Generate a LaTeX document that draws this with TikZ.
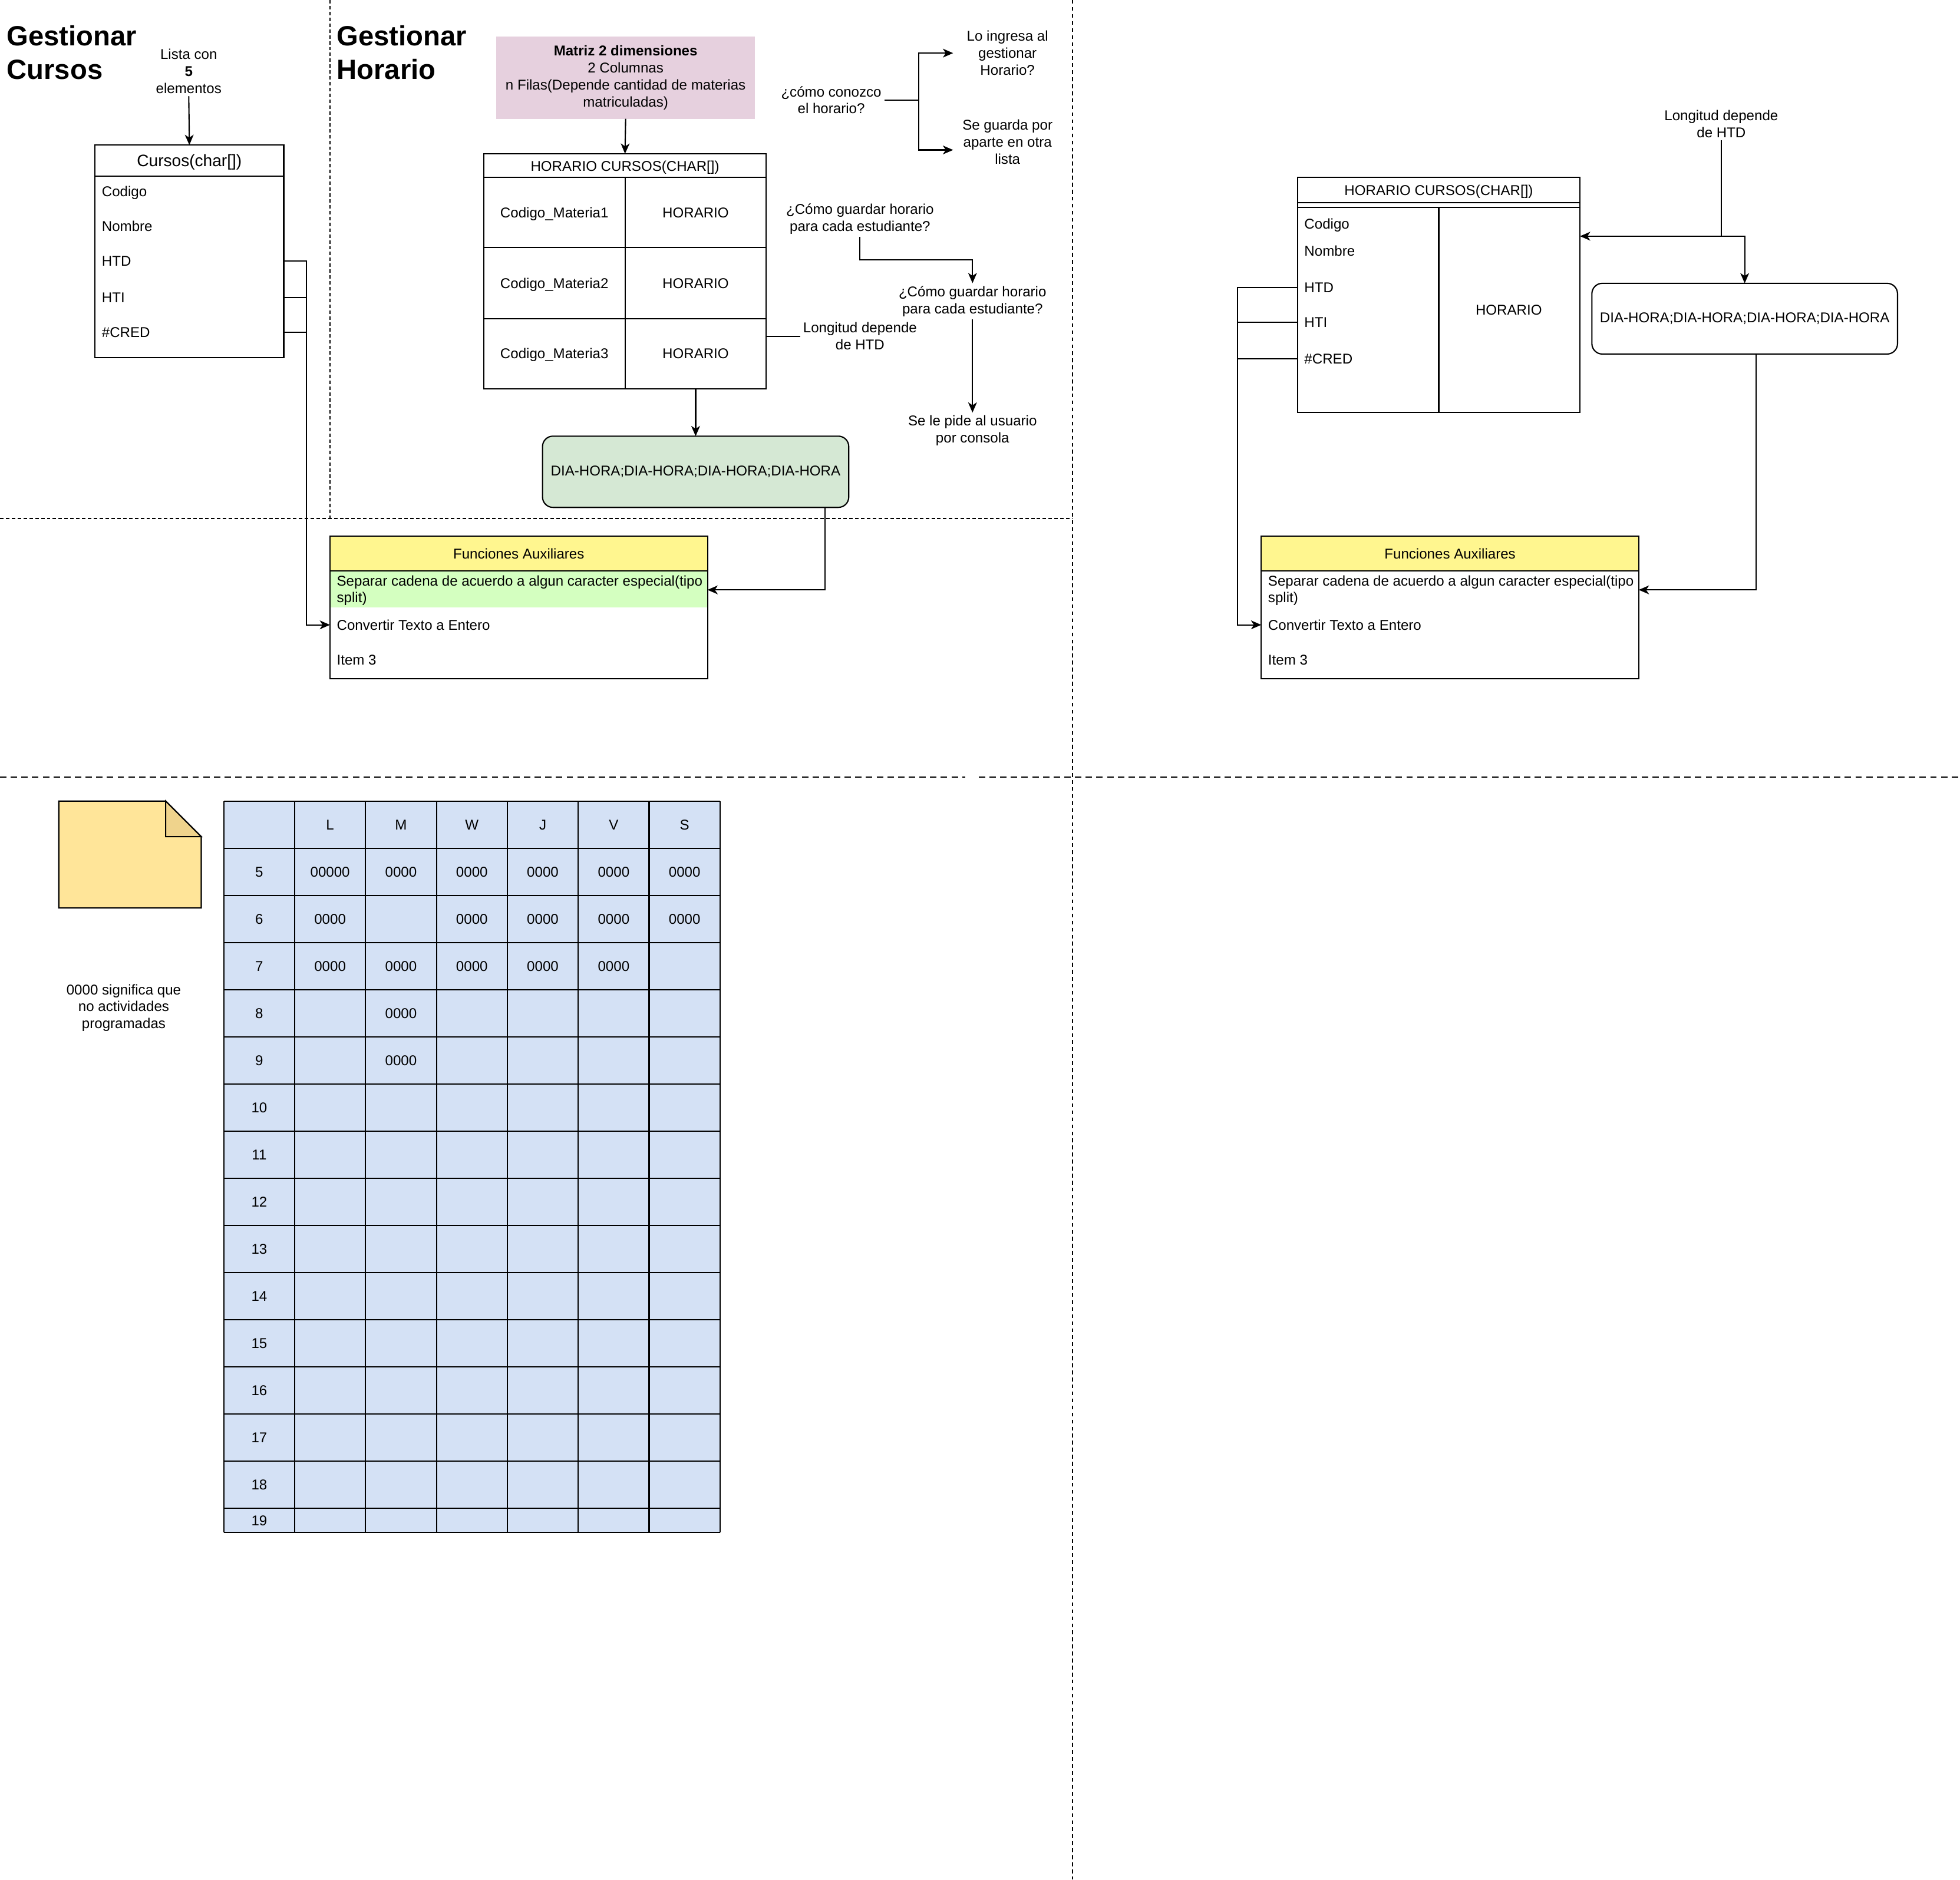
\documentclass[tikz,border=0pt]{standalone}
\usepackage{fontspec}
\setmainfont{Liberation Sans}
\usetikzlibrary{positioning,calc,arrows.meta}

\newcommand{\px}{0.03cm}
\definecolor{matrizfill}{HTML}{E6D0DE}
\definecolor{diasfill}{HTML}{D5E8D4}
\definecolor{auxhead}{HTML}{FFF68F}
\definecolor{splitfill}{HTML}{D4FFC0}
\definecolor{notefill}{HTML}{FFE599}
\definecolor{notefold}{HTML}{EFD38C}
\definecolor{gridfill}{HTML}{D4E1F5}

\tikzset{
  box/.style={draw, anchor=north west, inner sep=0pt, outer sep=0pt},
  lbl/.style={inner sep=0pt, text height=6.9pt, text depth=0pt},
  item/.style={lbl, anchor=west},
  note/.style={inner sep=1.5pt, align=center},
  title/.style={anchor=north west, inner sep=0pt, align=left,
    font=\fontsize{19}{23}\selectfont\bfseries},
  conn/.style={-{Stealth[length=7pt, width=6pt, inset=2pt]}},
  sepa/.style={dash pattern=on 2.4pt off 1.6pt},
  sepb/.style={dash pattern=on 2.6pt off 2.2pt},
  sepc/.style={dash pattern=on 4.4pt off 2.9pt},
}

\begin{document}
\begin{tikzpicture}[x=\px, y=-\px, line width=0.85pt,
    font=\fontsize{9.7}{11.6}\selectfont]
\useasboundingbox (0,0) rectangle (1568,1504);

% separadores
\draw[sepa] (264,0) -- (264,415);
\draw[sepa] (0,415) -- (858,415);
\draw[sepb] (858,0) -- (858,1504);
\draw[sepc] (0,622) -- (772,622);
\draw[sepc] (783,622) -- (1568,622);

% Gestionar Cursos
\node[title] (tcursos) at (5,20) {Gestionar\\Cursos};
\node[note] (lista) at (151,57) {Lista con\\\textbf{5}\\elementos};
\node[box, minimum width=151*\px, minimum height=170*\px] (cursos) at (76,116) {};
\draw (76,141) -- (227,141);
\node[lbl, font=\fontsize{11.3}{13}\selectfont, text height=8.1pt] (cursoshd) at (151.5,128.5) {Cursos(char[])};
\node[item] (codigo) at (81,153) {Codigo};
\node[item] (nombre) at (81,181) {Nombre};
\node[item] (htd) at (81,209) {HTD};
\node[item] (hti) at (81,238) {HTI};
\node[item] (cred) at (81,266) {\#CRED};
\draw[conn] (lista.south) -- (cursos.north);

% Funciones Auxiliares (izquierda)
\fill[splitfill] (264,457.5) rectangle (566,486);
\node[box, fill=auxhead, minimum width=302*\px, minimum height=28*\px] (funcAhd) at (264,429) {Funciones Auxiliares};
\node[box, minimum width=302*\px, minimum height=114*\px] (funcA) at (264,429) {};
\node[note, anchor=west, align=left, inner sep=0pt] (fa1) at (269,472.5) {Separar cadena de acuerdo a algun caracter especial(tipo\\split)};
\node[item] (fa2) at (269,500) {Convertir Texto a Entero};
\node[item] (fa3) at (269,528) {Item 3};

\coordinate (busA) at (245,500);
\draw[conn] (cursos.east |- htd) -| (busA) -- (funcA.west |- busA);
\draw (cursos.east |- hti) -- (busA |- hti);
\draw (cursos.east |- cred) -- (busA |- cred);

% Gestionar Horario
\node[title] (thorario) at (269,20) {Gestionar\\Horario};
\node[box, draw=none, fill=matrizfill, minimum width=207*\px, minimum height=66*\px, align=center] (matriz) at (397,29)
  {\textbf{Matriz 2 dimensiones}\\2 Columnas\\n Filas(Depende cantidad de materias\\matriculadas)};

\node[box, minimum width=226*\px, minimum height=188*\px] (horA) at (387,123) {};
\draw (387,142) -- (613,142);
\draw (387,198) -- (613,198);
\draw (387,255) -- (613,255);
\draw (500,142) -- (500,311);
\node[lbl] (horAhd) at (500,133) {HORARIO CURSOS(CHAR[])};
\foreach \row/\y in {1/170,2/226.5,3/283}{
  \node[lbl] (mat\row) at (443.5,\y) {Codigo\_Materia\row};
  \node[lbl] (hor\row) at (556.5,\y) {HORARIO};
}
\draw[conn] (matriz.south) -- (horA.north);

\node[box, rounded corners=0.25cm, fill=diasfill, minimum width=245*\px, minimum height=57*\px] (dias) at (434,349)
  {DIA-HORA;DIA-HORA;DIA-HORA;DIA-HORA};
\draw[conn] (dias.north |- horA.south) -- (dias.north);
\draw[conn] ($(dias.south east)+(-19,0)$) |- ($(funcA.north east)+(0,43)$);

\node[note] (longA) at (688,269) {Longitud depende\\de HTD};
\draw (horA.east |- longA) -- (longA.west);

\node[note, minimum width=84*\px] (como) at (665,80) {¿cómo conozco\\el horario?};
\coordinate (fork) at (735,80);
\node[note, minimum width=86*\px] (ingresa) at (806,42.5) {Lo ingresa al\\gestionar\\Horario?};
\node[note, minimum width=86*\px] (guarda) at (806,113.5) {Se guarda por\\aparte en otra\\lista};
\draw (como.east) -- (fork);
\draw[conn] (fork) |- (ingresa.west);
\draw[conn] (fork) |- ($(guarda.west)+(0,6.5)$);

\node[note] (q1) at (688,175) {¿Cómo guardar horario\\para cada estudiante?};
\node[note] (q2) at (778,241) {¿Cómo guardar horario\\para cada estudiante?};
\node[note] (pide) at (778,344.5) {Se le pide al usuario\\por consola};
\draw[conn] (q1.south) |- ($(q1.south)!.5!(q2.north)$) -| (q2.north);
\draw[conn] (q2.south) -- (pide.north);

% panel derecho
\node[note] (longB) at (1377,99) {Longitud depende\\de HTD};
\coordinate (joinB) at (1377,189);

\node[box, minimum width=226*\px, minimum height=188*\px] (horB) at (1038,142) {};
\draw (1038,162) -- (1264,162);
\draw (1038,166) -- (1264,166);
\draw (1151,166) -- (1151,330);
\node[lbl] (horBhd) at (1151,152) {HORARIO CURSOS(CHAR[])};
\node[item] (codigoB) at (1043,179) {Codigo};
\node[item] (nombreB) at (1043,201) {Nombre};
\node[item] (htdB) at (1043,230) {HTD};
\node[item] (htiB) at (1043,258) {HTI};
\node[item] (credB) at (1043,287) {\#CRED};
\node[lbl] (horBval) at (1207,248) {HORARIO};

\node[box, rounded corners=0.25cm, minimum width=244.5*\px, minimum height=56.6*\px] (diasB) at (1273.5,226.7)
  {DIA-HORA;DIA-HORA;DIA-HORA;DIA-HORA};

\node[box, fill=auxhead, minimum width=302*\px, minimum height=28*\px] (funcBhd) at (1009,429) {Funciones Auxiliares};
\node[box, minimum width=302*\px, minimum height=114*\px] (funcB) at (1009,429) {};
\node[note, anchor=west, align=left, inner sep=0pt] (fb1) at (1014,472.5) {Separar cadena de acuerdo a algun caracter especial(tipo\\split)};
\node[item] (fb2) at (1014,500) {Convertir Texto a Entero};
\node[item] (fb3) at (1014,528) {Item 3};

\draw (longB.south) -- (joinB);
\draw[conn] (joinB) -- (horB.east |- joinB);
\draw[conn] (joinB) -| (diasB.north);
\draw[conn] ($(diasB.south)+(9,0)$) |- ($(funcB.north east)+(0,43)$);

\coordinate (busB) at (990,500);
\draw[conn] (horB.west |- htdB) -| (busB) -- (funcB.west |- busB);
\draw (horB.west |- htiB) -- (busB |- htiB);
\draw (horB.west |- credB) -- (busB |- credB);

% horario semanal
\filldraw[fill=notefill] (47,641) -- (132.5,641) -- (161,669.5) -- (161,726.5) -- (47,726.5) -- cycle;
\filldraw[fill=notefold] (132.5,641) -- (132.5,669.5) -- (161,669.5) -- cycle;
\node[note] (notetxt) at (99,806.5) {0000 significa que\\no actividades\\programadas};

\fill[gridfill] (179,641) rectangle (576,1226);
\foreach \i in {0,...,7}
  \draw ({179+56.714*\i},641) -- ({179+56.714*\i},1226);
\foreach \j in {0,...,15}
  \draw (179,{641+37.73*\j}) -- (576,{641+37.73*\j});
\draw (179,1226) -- (576,1226);

\foreach \d [count=\i] in {L,M,W,J,V,S}
  \node[lbl] (day\i) at ({179+56.714*\i+28.36},660) {\d};
\foreach \h [count=\j] in {5,...,18}
  \node[lbl] (hr\h) at (207.4,{641+37.73*\j+18.86}) {\h};
\node[lbl] (hr19) at (207.4,1216.5) {19};
\foreach \col/\row/\val in {1/1/00000, 2/1/0000, 3/1/0000, 4/1/0000, 5/1/0000, 6/1/0000,
    1/2/0000, 3/2/0000, 4/2/0000, 5/2/0000, 6/2/0000,
    1/3/0000, 2/3/0000, 3/3/0000, 4/3/0000, 5/3/0000,
    2/4/0000, 2/5/0000}
  \node[lbl] (cell\col-\row) at ({179+56.714*\col+28.36},{641+37.73*\row+18.86}) {\val};

\end{tikzpicture}
\end{document}
